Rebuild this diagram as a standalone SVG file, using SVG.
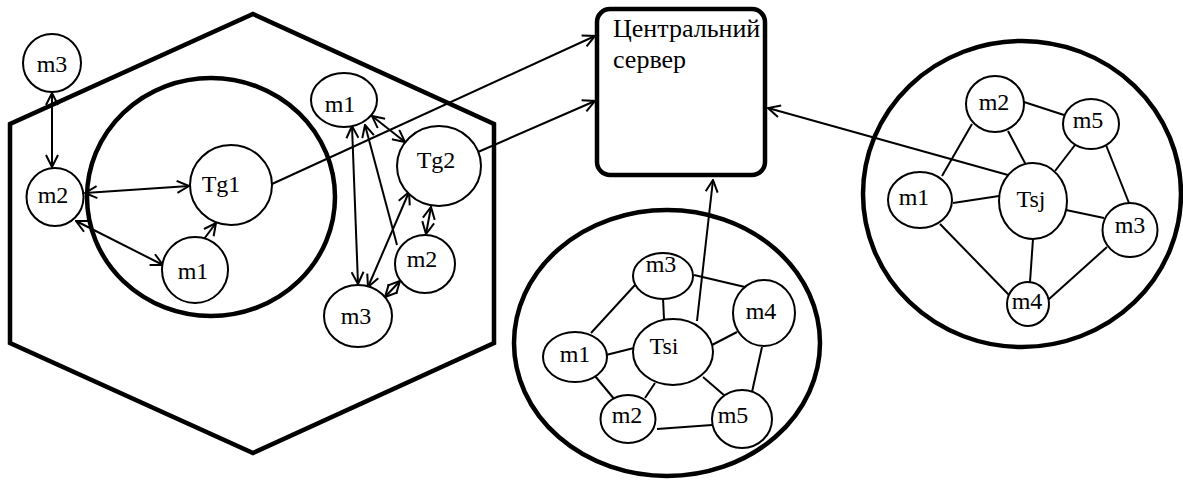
<svg xmlns="http://www.w3.org/2000/svg" width="1183" height="481" viewBox="0 0 1183 481">
<defs>
<style>
.c{fill:#fff;stroke:#000;stroke-width:2}
.b{fill:none;stroke:#000;stroke-width:4.5}
.e{fill:none;stroke:#000;stroke-width:2}
.a{fill:none;stroke:#000;stroke-width:2;marker-end:url(#ar)}
.d{fill:none;stroke:#000;stroke-width:2;marker-start:url(#ar);marker-end:url(#ar)}
text{font-family:"Liberation Serif","Times New Roman",serif;font-size:24px;fill:#000;text-anchor:middle}
</style>
<marker id="ar" viewBox="0 0 14 14" refX="13" refY="7" markerWidth="14" markerHeight="14" markerUnits="userSpaceOnUse" orient="auto-start-reverse">
<path d="M1,1 L13,7 L1,13" fill="none" stroke="#000" stroke-width="2"/>
</marker>
</defs>
<rect width="1183" height="481" fill="#fff"/>
<g id="containers">
<polygon class="b" points="253,14 494,124 494,343 253,453 10,343 10,124"/>
<ellipse class="b" cx="211" cy="197" rx="124" ry="119"/>
<ellipse class="b" cx="667" cy="343" rx="153" ry="133"/>
<ellipse class="b" cx="1022" cy="194" rx="159" ry="153"/>
</g>
<g id="connectors">
<line class="d" x1="52" y1="93" x2="52" y2="167"/>
<line class="d" x1="85" y1="193" x2="189" y2="186"/>
<line class="d" x1="76" y1="221" x2="163" y2="265"/>
<line class="a" x1="204" y1="239" x2="216" y2="223"/>
<line class="a" x1="272" y1="184" x2="595" y2="36"/>
<line class="a" x1="478" y1="152" x2="595" y2="101"/>
<line class="d" x1="372" y1="116" x2="405" y2="142"/>
<line class="d" x1="352" y1="126" x2="358" y2="284"/>
<line class="a" x1="397" y1="245" x2="365" y2="125"/>
<line class="d" x1="368" y1="287" x2="409" y2="192"/>
<line class="d" x1="431" y1="207" x2="426" y2="234"/>
<line class="d" x1="400" y1="281" x2="385" y2="297"/>
<line class="a" x1="697" y1="321" x2="713" y2="180"/>
<line class="a" x1="1008" y1="175" x2="768" y2="108"/>
<line class="e" x1="635" y1="285" x2="591" y2="333"/>
<line class="e" x1="663" y1="298" x2="664" y2="319"/>
<line class="e" x1="694" y1="275" x2="745" y2="287"/>
<line class="e" x1="606" y1="355" x2="634" y2="348"/>
<line class="e" x1="595" y1="376" x2="615" y2="400"/>
<line class="e" x1="655" y1="383" x2="645" y2="398"/>
<line class="e" x1="712" y1="345" x2="737" y2="332"/>
<line class="e" x1="703" y1="377" x2="725" y2="396"/>
<line class="e" x1="762" y1="347" x2="752" y2="392"/>
<line class="e" x1="657" y1="429" x2="712" y2="425"/>
<line class="e" x1="1024" y1="102" x2="1064" y2="115"/>
<line class="e" x1="972" y1="124" x2="942" y2="176"/>
<line class="e" x1="1008" y1="131" x2="1026" y2="165"/>
<line class="e" x1="1075" y1="145" x2="1055" y2="171"/>
<line class="e" x1="1106" y1="145" x2="1129" y2="203"/>
<line class="e" x1="953" y1="203" x2="999" y2="196"/>
<line class="e" x1="1066" y1="210" x2="1104" y2="218"/>
<line class="e" x1="1033" y1="239" x2="1030" y2="282"/>
<line class="e" x1="940" y1="224" x2="1009" y2="295"/>
<line class="e" x1="1107" y1="247" x2="1048" y2="300"/>
</g>
<g id="server">
<rect x="597" y="9" width="168" height="166" rx="13" fill="#fff" stroke="#000" stroke-width="4.5"/>
<text x="613" y="37" style="text-anchor:start;font-size:26px">Центральний</text>
<text x="613" y="68" style="text-anchor:start;font-size:26px">сервер</text>
</g>
<g id="g1-m3"><circle class="c" cx="52" cy="63" r="29"/><text x="52" y="72">m3</text></g>
<g id="g1-m2"><ellipse class="c" cx="55" cy="197" rx="28.5" ry="29"/><text x="53" y="203">m2</text></g>
<g id="g1-Tg1"><ellipse class="c" cx="231" cy="185" rx="41" ry="40"/><text x="221" y="192">Tg1</text></g>
<g id="g1-m1"><circle class="c" cx="195" cy="270" r="33"/><text x="193" y="279">m1</text></g>
<g id="g2-m1"><ellipse class="c" cx="344" cy="100" rx="33" ry="27"/><text x="340" y="112">m1</text></g>
<g id="g2-Tg2"><ellipse class="c" cx="439" cy="166" rx="42" ry="40"/><text x="436" y="168">Tg2</text></g>
<g id="g2-m2"><ellipse class="c" cx="425" cy="264" rx="30" ry="29"/><text x="422" y="267">m2</text></g>
<g id="g2-m3"><ellipse class="c" cx="358" cy="316" rx="34" ry="31"/><text x="356" y="324">m3</text></g>
<g id="si-m3"><ellipse class="c" cx="663" cy="276" rx="30" ry="23"/><text x="661" y="272">m3</text></g>
<g id="si-m4"><ellipse class="c" cx="764" cy="313" rx="31" ry="33"/><text x="761" y="319">m4</text></g>
<g id="si-Tsi"><ellipse class="c" cx="673" cy="352" rx="40" ry="33"/><text x="664" y="354">Tsi</text></g>
<g id="si-m1"><ellipse class="c" cx="575" cy="357" rx="32" ry="25"/><text x="575" y="362">m1</text></g>
<g id="si-m2"><ellipse class="c" cx="628" cy="419" rx="27.5" ry="24"/><text x="627" y="423">m2</text></g>
<g id="si-m5"><ellipse class="c" cx="742" cy="419" rx="30" ry="29"/><text x="733" y="423">m5</text></g>
<g id="sj-m2"><ellipse class="c" cx="995" cy="104" rx="29" ry="28"/><text x="994" y="110">m2</text></g>
<g id="sj-m5"><ellipse class="c" cx="1091" cy="124" rx="28" ry="25"/><text x="1088" y="128">m5</text></g>
<g id="sj-m1"><ellipse class="c" cx="920" cy="200" rx="32" ry="28"/><text x="914" y="205">m1</text></g>
<g id="sj-Tsj"><ellipse class="c" cx="1033" cy="201" rx="34" ry="38"/><text x="1031" y="207">Tsj</text></g>
<g id="sj-m3"><ellipse class="c" cx="1130" cy="230" rx="27.5" ry="27"/><text x="1130" y="233">m3</text></g>
<g id="sj-m4"><ellipse class="c" cx="1028" cy="304" rx="21" ry="22"/><text x="1027" y="309">m4</text></g>
</svg>
